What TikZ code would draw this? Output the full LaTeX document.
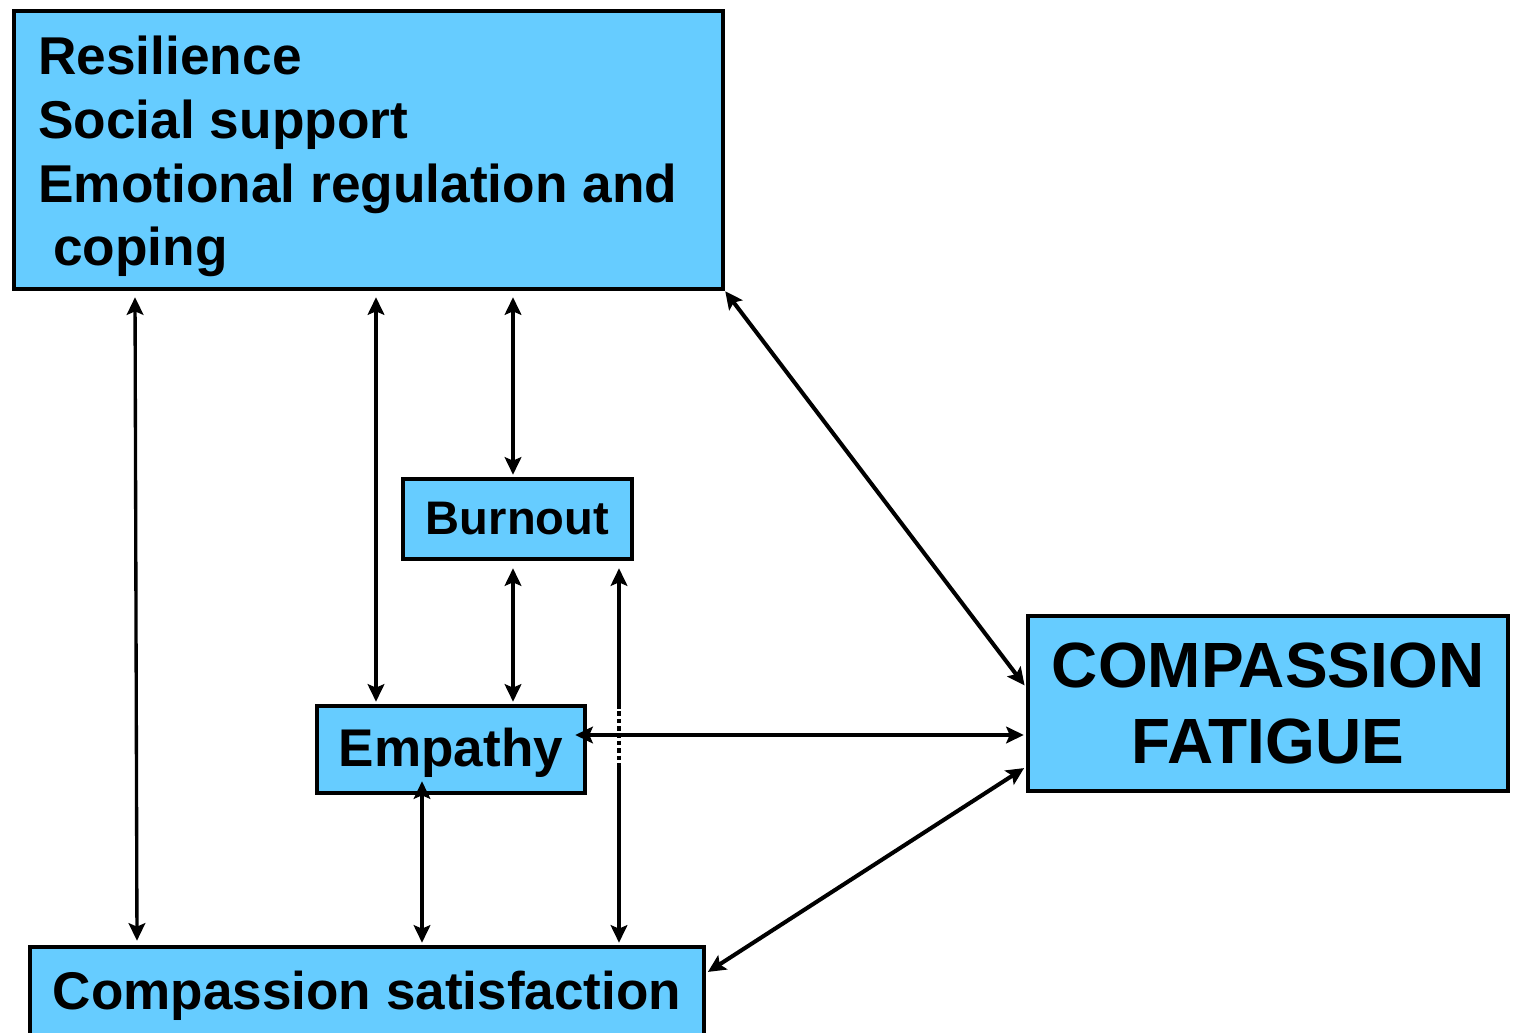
\documentclass[tikz,border=0pt]{standalone}
\usepackage{fontspec}
\setmainfont{Liberation Sans}
\usetikzlibrary{arrows.meta}
\definecolor{boxblue}{RGB}{102,204,255}
\begin{document}
\begin{tikzpicture}[x=0.02cm,y=-0.02cm,
  box/.style={draw=black, fill=boxblue, line width=2.6pt, inner sep=0pt, font=\bfseries},
  arr/.style={line width=1.9pt, {Stealth[length=10pt,width=9.5pt,inset=2pt]}-{Stealth[length=10pt,width=9.5pt,inset=2pt]}},
  arrs/.style={line width=1.9pt, {Stealth[length=10pt,width=9.5pt,inset=2pt]}-},
  arre/.style={line width=1.9pt, -{Stealth[length=10pt,width=9.5pt,inset=2pt]}},
  diag/.style={arr, line width=2.3pt}]
\useasboundingbox (0,0) rectangle (1513,1033);
\begin{scope}
\clip (0,0) rectangle (1513,1033);
\node[box, minimum width=14.18cm, minimum height=5.56cm] (top) at (368.5,150) {};
\node[anchor=base west, align=left, inner sep=0pt, font=\bfseries\fontsize{30.3}{36.3}\selectfont] (toptext) at (38,266)
  {Resilience\\Social support\\Emotional regulation and\\\ coping};
\node[box, minimum width=4.58cm, minimum height=1.6cm, font=\bfseries\fontsize{26.8}{30}\selectfont] (burn) at (517.5,519) {Burnout};
\node[box, minimum width=5.36cm, minimum height=1.74cm, text height=19.8pt, text depth=0pt, font=\bfseries\fontsize{30.2}{36}\selectfont] (emp) at (451,749.5) {Empathy};
\node[box, minimum width=9.6cm, minimum height=3.5cm, align=center, font=\bfseries\fontsize{36.4}{43.65}\selectfont] (cf) at (1268,703.5) {COMPASSION\\FATIGUE};
\node[box, minimum width=13.48cm, minimum height=1.96cm, font=\bfseries\fontsize{30.2}{36}\selectfont] (cs) at (367,996) {Compassion satisfaction};
\end{scope}
% connectors
\draw[arr, shorten <=0.12cm, shorten >=0.08cm] (top.south -| 135,0) -- (cs.north -| 137,0);
\draw[arr, shorten <=0.12cm, shorten >=0.04cm] (top.south -| 376,0) -- (emp.north -| 376,0);
\draw[arr, shorten <=0.12cm, shorten >=0.04cm] (top.south -| 513,0) -- (burn.north -| 513,0);
\draw[arr, shorten <=0.14cm, shorten >=0.04cm] (burn.south -| 513,0) -- (emp.north -| 513,0);
\coordinate (d1) at (619,704);
\coordinate (d2) at (619,768);
\draw[arrs, shorten <=0.14cm] (burn.south -| 619,0) -- (d1);
\draw[line width=1.9pt, dash pattern=on 2.6pt off 1.6pt] (d1) -- (d2);
\draw[arre, shorten >=0.04cm] (d2) -- (cs.north -| 619,0);
\draw[arr, shorten <=-0.28cm, shorten >=0.04cm] (emp.south -| 422,0) -- (cs.north -| 422,0);
\draw[arr, shorten <=-0.24cm, shorten >=0.04cm] (emp.east |- 0,735) -- (cf.west |- 0,735);
\draw[diag, shorten >=0.04cm] (top.south east) -- (cf.west |- 0,687);
\draw[diag, shorten <=0.04cm, shorten >=0.04cm] (cs.east |- 0,973) -- (cf.west |- 0,767);
\end{tikzpicture}
\end{document}
